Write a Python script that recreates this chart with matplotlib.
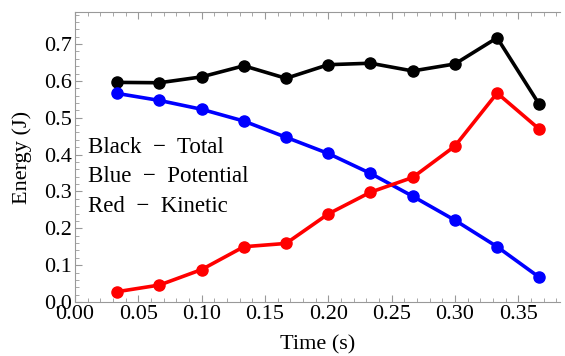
import matplotlib.pyplot as plt
from matplotlib.ticker import MultipleLocator, FormatStrFormatter

# Data
time = [1/30, 2/30, 3/30, 4/30, 5/30, 6/30, 7/30, 8/30, 9/30, 10/30, 11/30]
total = [0.596, 0.595, 0.611, 0.641, 0.607, 0.644, 0.648, 0.627, 0.646, 0.717, 0.536]
potential = [0.566, 0.547, 0.523, 0.491, 0.447, 0.403, 0.349, 0.287, 0.222, 0.150, 0.067]
kinetic = [0.028, 0.046, 0.088, 0.150, 0.159, 0.239, 0.298, 0.338, 0.423, 0.567, 0.469]

plt.rcParams['font.family'] = ['Liberation Serif', 'DejaVu Serif']

fig = plt.figure(figsize=(5.65, 3.56), dpi=100)
ax = fig.add_axes([75/565, 54/356, 485/565, 290/356])

for y, c in [(total, 'black'), (potential, 'blue'), (kinetic, 'red')]:
    ax.plot(time, y, color=c, lw=2.6, marker='o', ms=8, zorder=3)

ax.set_xlim(0, 0.383)
ax.set_ylim(0, 0.787)

ax.xaxis.set_major_locator(MultipleLocator(0.05))
ax.xaxis.set_minor_locator(MultipleLocator(0.01))
ax.yaxis.set_major_locator(MultipleLocator(0.1))
ax.yaxis.set_minor_locator(MultipleLocator(0.02))
ax.xaxis.set_major_formatter(FormatStrFormatter('%.2f'))
ax.yaxis.set_major_formatter(FormatStrFormatter('%.1f'))

spine_col = '#999999'
ax.spines['right'].set_visible(False)
for s in ['left', 'bottom', 'top']:
    ax.spines[s].set_color(spine_col)
    ax.spines[s].set_linewidth(0.8)

ax.tick_params(which='both', direction='in', color=spine_col, top=True,
               right=False, labelsize=16, pad=2)
ax.tick_params(which='major', length=5, width=0.8)
ax.tick_params(which='minor', length=3, width=0.6)

ax.set_xlabel('Time (s)', fontsize=16, labelpad=8)
ax.set_ylabel('Energy (J)', fontsize=16, labelpad=9)

ax.text(0.01, 0.405, 'Black  \u2212  Total', fontsize=16.5)
ax.text(0.01, 0.325, 'Blue  \u2212  Potential', fontsize=16.5)
ax.text(0.01, 0.245, 'Red  \u2212  Kinetic', fontsize=16.5)

fig.savefig('out.png', dpi=100)
